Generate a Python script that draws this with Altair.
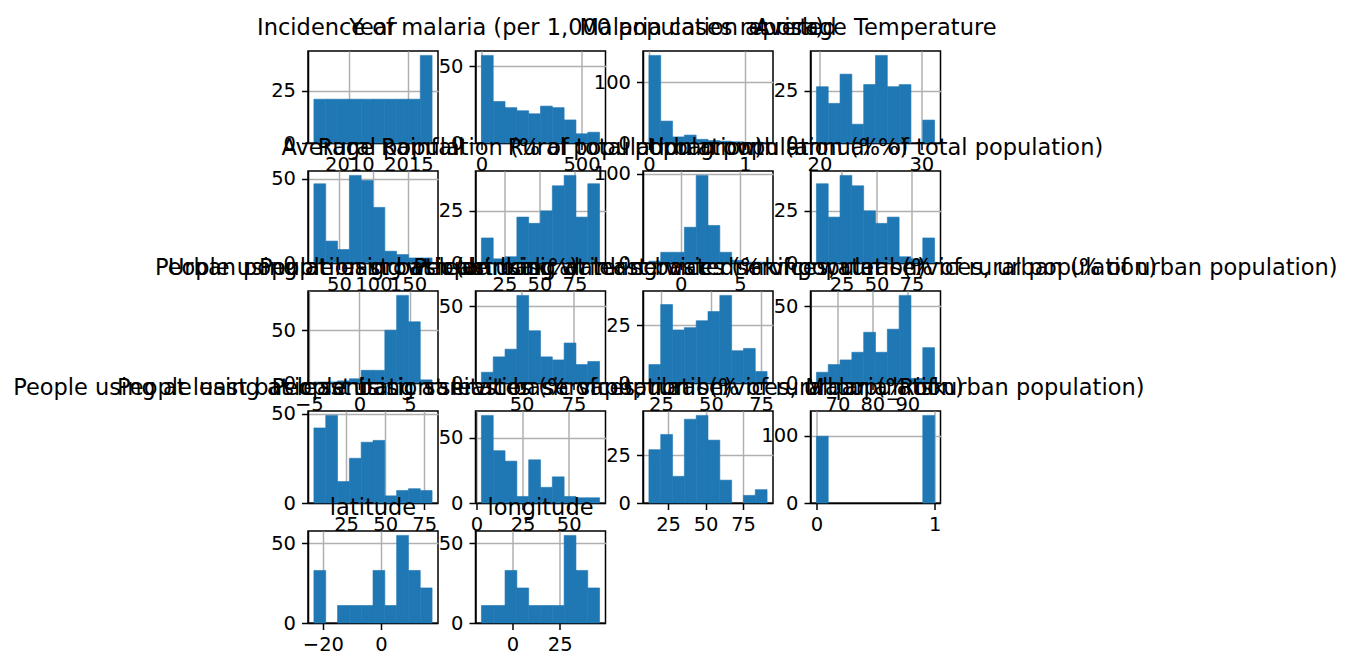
import altair as alt
import numpy as np
import pandas as pd

TITLES = [
    "Year",
    "Incidence of malaria (per 1,000 population at risk)",
    "Malaria cases reported",
    "Average Temperature",
    "Average Rainfall",
    "Rural population (% of total population)",
    "Rural population growth (annual %)",
    "Urban population (% of total population)",
    "Urban population growth (annual %)",
    "People using at least basic drinking water services (% of population)",
    "People using at least basic drinking water services, rural (% of rural population)",
    "People using at least basic drinking water services, urban (% of urban population)",
    "People using at least basic sanitation services (% of population)",
    "People using at least basic sanitation services, rural (% of rural population)",
    "People using at least basic sanitation services, urban (% of urban population)",
    "Malaria_Risk",
    "latitude",
    "longitude",
]

MINS = [2007, 0, 0, 19.7, 13.6, 8.5, -2.7, 7.0, -4.5, 30.7, 19.0, 64.0, 4.4, 2.7, 12.2, 0, -23.1, -16.3]
MAXS = [2017, 590, 1.23e7, 31.3, 185, 93.0, 7.3, 91.5, 7.2, 87.5, 78.0, 97.8, 80.0, 66.7, 91.0, 1, 17.6, 46.0]

COUNTS = [
    [21, 21, 21, 21, 21, 21, 21, 21, 21, 42],
    [57, 27, 23, 21, 19, 24, 23, 15, 6, 7],
    [144, 36, 10, 13, 6, 4, 3, 2, 1, 1],
    [27, 19, 33, 9, 28, 42, 27, 28, 0, 11],
    [47, 13, 8, 52, 49, 33, 7, 5, 3, 3],
    [12, 2, 3, 22, 19, 25, 37, 42, 22, 38],
    [2, 12, 12, 40, 98, 42, 12, 3, 1, 1],
    [38, 22, 42, 37, 25, 19, 22, 3, 2, 12],
    [1, 1, 2, 4, 12, 12, 50, 83, 58, 3],
    [7, 17, 22, 57, 34, 17, 15, 26, 12, 14],
    [8, 34, 23, 24, 27, 31, 38, 14, 15, 5],
    [7, 12, 15, 20, 33, 20, 35, 57, 3, 23],
    [42, 49, 12, 25, 34, 35, 4, 7, 8, 7],
    [67, 40, 32, 5, 33, 12, 20, 5, 4, 4],
    [28, 36, 14, 44, 46, 33, 12, 0, 4, 7],
    [99, 0, 0, 0, 0, 0, 0, 0, 0, 130],
    [33, 0, 11, 11, 11, 33, 11, 55, 33, 22],
    [11, 11, 33, 22, 11, 11, 11, 55, 33, 22],
]

XTICKS = [
    [2010, 2015], [0, 500], [0, 1e7], [20, 30],
    [50, 100, 150], [25, 50, 75], [0, 5], [25, 50, 75],
    [-5, 0, 5], [50, 75], [25, 50, 75], [70, 80, 90],
    [25, 50, 75], [0, 25, 50], [25, 50, 75], [0, 1],
    [-20, 0], [0, 25],
]
YTICKS = [
    [0, 25], [0, 50], [0, 100], [0, 25],
    [0, 50], [0, 25], [0, 100], [0, 25],
    [0, 50], [0, 50], [0, 25], [0, 50],
    [0, 50], [0, 50], [0, 25], [0, 100],
    [0, 50], [0, 50],
]

BAR_COLOR = "#1f77b4"
FONT = "DejaVu Sans"
PW, PH = 130, 92


def panel(i):
    edges = np.linspace(MINS[i], MAXS[i], len(COUNTS[i]) + 1)
    df = pd.DataFrame({"x0": edges[:-1], "x1": edges[1:], "count": COUNTS[i],
                       "base": [0] * len(COUNTS[i])})
    r = MAXS[i] - MINS[i]
    dom = [MINS[i] - 0.05 * r, MAXS[i] + 0.05 * r]
    ymax = max(COUNTS[i]) * 1.05
    xt = [v for v in XTICKS[i] if dom[0] <= v <= dom[1]]
    if i == 2:
        xaxis = alt.Axis(values=xt, labelExpr="datum.value / 10000000")
    else:
        xaxis = alt.Axis(values=xt, format="d")
    bars = (
        alt.Chart(df)
        .transform_filter("datum.count > 0")
        .mark_rect(color=BAR_COLOR, stroke=BAR_COLOR, strokeWidth=0.6)
        .encode(
            x=alt.X("x0:Q", scale=alt.Scale(domain=dom, nice=False, zero=False), axis=xaxis, title=None),
            x2="x1:Q",
            y=alt.Y("count:Q", scale=alt.Scale(domain=[0, ymax], nice=False),
                    axis=alt.Axis(values=YTICKS[i], format="d"), title=None),
            y2="base:Q",
        )
    )
    title = (
        alt.Chart(pd.DataFrame({"t": [TITLES[i]]}))
        .mark_text(font=FONT, fontSize=22.5, color="black", align="center", baseline="alphabetic")
        .encode(text="t:N", x=alt.value(PW / 2), y=alt.value(-16))
    )
    return alt.layer(bars, title).properties(width=PW, height=PH)


chart = (
    alt.concat(*[panel(i) for i in range(len(TITLES))], columns=4,
               spacing=alt.RowColnumber(row=28, column=37.5), bounds="flush")
    .properties(padding={"left": 4, "top": 8, "right": 5, "bottom": 1}, background="white")
    .configure_view(fill="white", stroke="black", strokeWidth=1.5)
    .configure_axis(
        grid=True, gridColor="#b0b0b0", gridWidth=1.5,
        domain=True, domainColor="black", domainWidth=1.5,
        ticks=True, tickColor="black", tickWidth=1.5, tickSize=6.5,
        labelFont=FONT, labelFontSize=19.5, labelColor="black", labelPadding=6,
        labelOverlap=False, labelFlush=False, labelBound=False, zindex=1,
    )
)

chart.save("out.html", embed_options={"renderer": "svg", "actions": False})
